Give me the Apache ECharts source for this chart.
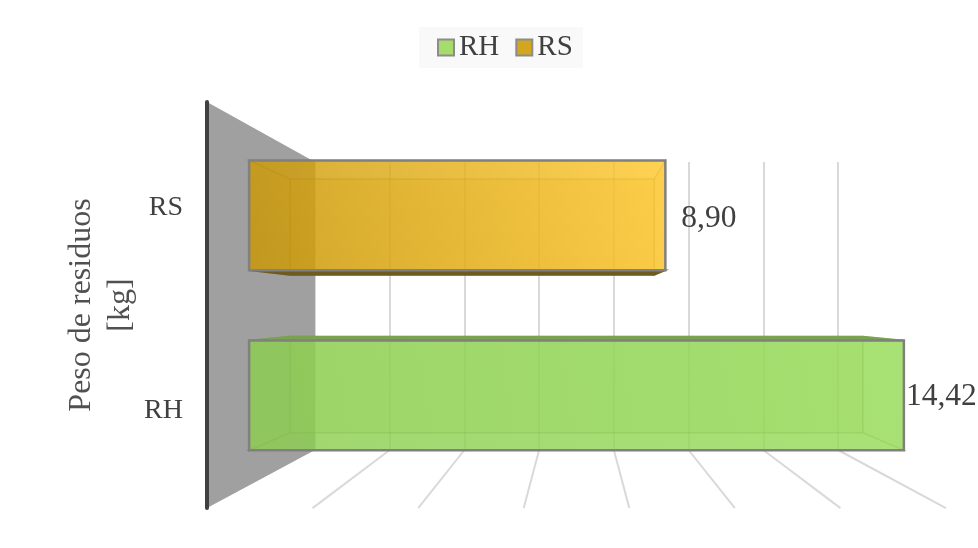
<!DOCTYPE html>
<html><head><meta charset="utf-8">
<style>html,body{margin:0;padding:0;background:#fff}#c{width:978px;height:548px}</style>
<script src="https://cdn.jsdelivr.net/npm/echarts@6/dist/echarts.min.js"></script>
</head><body><div id="c"></div>
<script>
const categories = ['RH', 'RS'];
const rhValues = [14.42];
const rsValues = [8.90];
const axisMin = 0, axisMax = 14, axisStep = 2;
const floorTicks = [2, 4, 6, 8, 10, 12, 14];
const axisTitle = 'Peso de residuos\n[kg]';

const SERIF = '"Liberation Serif","Times New Roman",serif';
const TXT = '#404040';
// perspective from rear wall to front plane
const VP = [576.5, 308.3], SX = 0.413, SY = 0.41;
const T_BACK = 0.23, T_FRONT = 0.61, BAR_FRAC = 0.61;
function proj(p, t) {
  return [VP[0] + (p[0] - VP[0]) * (1 + SX * t), VP[1] + (p[1] - VP[1]) * (1 + SY * t)];
}

function barItem(opt) {
  return function (params, api) {
    const v = api.value(0), cat = api.value(1);
    const shown = Math.min(v, axisMax);
    const band = api.size([0, 1])[1];
    const h = band * BAR_FRAC / 2;
    const c0 = api.coord([axisMin, cat]), c1 = api.coord([shown, cat]);
    const rect = t => [proj([c0[0], c0[1] - h], t), proj([c1[0], c0[1] - h], t),
                       proj([c1[0], c0[1] + h], t), proj([c0[0], c0[1] + h], t)];
    const F = rect(T_FRONT), B = rect(T_BACK);
    const edge = 'rgba(60,60,20,0.18)';
    const poly = (pts, fill, stroke, lw) => ({ type: 'polygon', shape: { points: pts },
      style: { fill: fill, stroke: stroke, lineWidth: lw == null ? 1.5 : lw, lineJoin: 'miter' } });
    const topOut = B[0][1] < F[0][1], botOut = B[3][1] > F[3][1];
    const children = [
      poly(B, opt.back, edge),
      poly([F[0], B[0], B[3], F[3]], opt.side, edge),
      poly([F[1], B[1], B[2], F[2]], opt.side, edge),
      poly([F[0], F[1], B[1], B[0]], topOut ? opt.dark : 'rgba(0,0,0,0)', topOut ? opt.dark : edge),
      poly([F[3], F[2], B[2], B[3]], botOut ? opt.dark : 'rgba(0,0,0,0)', botOut ? opt.dark : edge),
      poly(F, opt.front, '#808080', 2.5),
      { type: 'text', style: {
          x: F[1][0] + opt.labelDx, y: (F[1][1] + F[2][1]) / 2 + opt.labelDy,
          text: v.toFixed(2).replace('.', ','),
          font: '31.5px ' + SERIF, fill: TXT, align: 'left', verticalAlign: 'middle' } }
    ];
    return { type: 'group', children: children };
  };
}
const lin = (a, b) => ({ type: 'linear', x: 0, y: 1, x2: 1, y2: 0, colorStops: [{ offset: 0, color: a }, { offset: 1, color: b }] });

const option = {
  backgroundColor: '#ffffff',
  animation: false,
  legend: {
    data: ['RH', 'RS'], left: 419, top: 27, padding: [6, 10, 6, 18],
    backgroundColor: '#f9f9f9', icon: 'rect', itemWidth: 16, itemHeight: 16, itemGap: 16,
    textStyle: { fontFamily: SERIF, fontSize: 29, color: TXT }
  },
  grid: [
    { left: 315, top: 162, width: 523, height: 288 },
    { left: 207, top: 102, width: 739, height: 406 }
  ],
  xAxis: [
    { gridIndex: 0, type: 'value', min: axisMin, max: axisMax, interval: axisStep,
      axisLine: { show: false }, axisTick: { show: false }, axisLabel: { show: false },
      splitLine: { show: true, lineStyle: { color: '#d9d9d9', width: 2 } } },
    { gridIndex: 1, type: 'value', min: axisMin, max: axisMax, interval: axisStep, show: false, splitLine: { show: false } }
  ],
  yAxis: [
    { gridIndex: 0, type: 'category', data: categories, axisLine: { show: false }, axisTick: { show: false },
      axisLabel: { show: false }, splitLine: { show: false } },
    { gridIndex: 1, type: 'category', data: categories, z: 2,
      axisLine: { show: true, onZero: false, lineStyle: { color: '#404040', width: 4 } },
      axisTick: { show: false }, splitLine: { show: false },
      axisLabel: { margin: 24, fontFamily: SERIF, fontSize: 28, color: TXT, verticalAlign: 'top', lineHeight: 8 },
      name: axisTitle, nameLocation: 'middle', nameRotate: 90, nameGap: 67, nameMoveOverlap: false,
      nameTextStyle: { fontFamily: SERIF, fontSize: 32, color: '#505050', lineHeight: 39 } }
  ],
  series: [
    { name: 'wall', type: 'custom', xAxisIndex: 0, yAxisIndex: 0, z: 1, silent: true,
      data: [[axisMin, 0]], encode: { x: 0, y: 1 },
      renderItem: function (params, api) {
        const cs = params.coordSys, L = cs.x, T = cs.y, Bm = cs.y + cs.height;
        return { type: 'polygon', shape: { points: [proj([L, T], 1), [L, T], [L, Bm], proj([L, Bm], 1)] },
                 style: { fill: '#a0a0a0' } };
      } },
    { name: 'floor', type: 'custom', xAxisIndex: 0, yAxisIndex: 0, z: 1, silent: true,
      data: floorTicks.map(t => [t, 0]), encode: { x: 0, y: 1 },
      renderItem: function (params, api) {
        const x = api.coord([api.value(0), 0])[0], Bm = params.coordSys.y + params.coordSys.height;
        const e = proj([x, Bm], 1);
        return { type: 'line', shape: { x1: x, y1: Bm, x2: e[0], y2: e[1] },
                 style: { stroke: '#d9d9d9', lineWidth: 2 } };
      } },
    { name: 'RH', type: 'custom', xAxisIndex: 0, yAxisIndex: 0, z: 3,
      itemStyle: { color: '#a5dc6b', borderColor: '#8c8c8c', borderWidth: 2.5 },
      data: rhValues.map(v => [v, categories.indexOf('RH')]), encode: { x: 0, y: 1 },
      renderItem: barItem({
        front: lin('rgba(140,205,80,0.82)', 'rgba(152,220,90,0.82)'),
        back: 'rgba(150,205,95,0.25)', side: 'rgba(130,190,80,0.12)', dark: '#7ba24e',
        labelDx: 2, labelDy: 1 }) },
    { name: 'RS', type: 'custom', xAxisIndex: 0, yAxisIndex: 0, z: 3,
      itemStyle: { color: '#d4a520', borderColor: '#8c8c8c', borderWidth: 2.5 },
      data: rsValues.map(v => [v, categories.indexOf('RS')]), encode: { x: 0, y: 1 },
      renderItem: barItem({
        front: lin('rgba(200,150,5,0.82)', 'rgba(255,200,45,0.82)'),
        back: 'rgba(210,160,30,0.25)', side: 'rgba(190,140,10,0.12)', dark: '#6f5b22',
        labelDx: 16, labelDy: 3.5 }) }
  ]
};
echarts.init(document.getElementById('c'), null, { renderer: 'canvas' }).setOption(option);
</script></body></html>
